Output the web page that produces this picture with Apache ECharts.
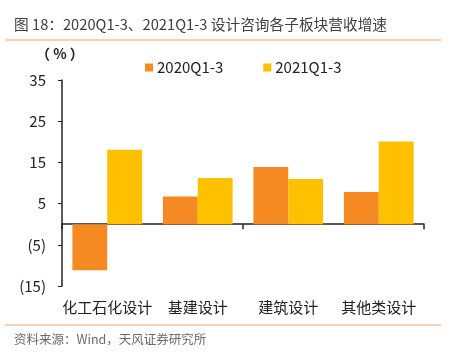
<!DOCTYPE html>
<html>
<head>
<meta charset="utf-8">
<script src="https://cdn.jsdelivr.net/npm/echarts@6/dist/echarts.min.js"></script>
<style>
html,body{margin:0;padding:0;background:#fff;}
#c{width:474px;height:357px;}
</style>
</head>
<body>
<div id="c"></div>
<script>
var categories = ['化工石化设计', '基建设计', '建筑设计', '其他类设计'];
var series2020 = [-11.2, 6.7, 13.9, 7.8];
var series2021 = [18.1, 11.2, 11.0, 20.1];
var seriesNames = ['2020Q1-3', '2021Q1-3'];
var titleText = '图 18：2020Q1-3、2021Q1-3 设计咨询各子板块营收增速';
var sourceText = '资料来源：Wind，天风证券研究所';

var FONT = "'Noto Sans CJK SC', 'Noto Sans', sans-serif";
var chart = echarts.init(document.getElementById('c'), null, {renderer: 'canvas'});
chart.setOption({
  animation: false,
  backgroundColor: '#fff',
  textStyle: {fontFamily: FONT},
  graphic: [
    {type: 'text', left: 14, top: 17, style: {text: titleText, font: '14.7px ' + FONT, fill: '#404040'}},
    {type: 'line', shape: {x1: 5, y1: 40, x2: 441, y2: 40}, style: {stroke: '#F2A46A', lineWidth: 1}},
    {type: 'text', left: 36, top: 47, style: {text: '（ % ）', font: 'bold 14px ' + FONT, fill: '#222'}},
    {type: 'line', shape: {x1: 5, y1: 325, x2: 441, y2: 325}, style: {stroke: '#F2A46A', lineWidth: 1}},
    {type: 'text', left: 14, top: 333, style: {text: sourceText, font: '12.5px ' + FONT, fill: '#6a6a6a'}}
  ],
  legend: {
    data: seriesNames,
    top: 55,
    left: 140,
    itemWidth: 8,
    itemHeight: 8,
    itemGap: 40,
    icon: 'rect',
    textStyle: {fontSize: 15, color: '#222', fontFamily: FONT, padding: [0, 0, 0, -1]}
  },
  grid: {left: 62, right: 50, top: 80, bottom: 71, containLabel: false, outerBoundsMode: 'none'},
  xAxis: [
    {
      type: 'category',
      data: categories,
      position: 'bottom',
      axisLine: {show: false, onZero: false},
      axisTick: {show: false},
      axisLabel: {margin: 14, fontSize: 15, color: '#222', fontFamily: FONT, interval: 0}
    },
    {
      type: 'category',
      data: categories,
      position: 'bottom',
      axisLine: {show: true, onZero: true, lineStyle: {color: '#222', width: 1.5}},
      axisTick: {show: true, inside: false, length: 5, alignWithLabel: false, lineStyle: {color: '#222', width: 1.5}},
      axisLabel: {show: false}
    }
  ],
  yAxis: {
    type: 'value',
    min: -15,
    max: 35,
    interval: 10,
    splitLine: {show: false},
    axisLine: {show: true, lineStyle: {color: '#222', width: 1.5}},
    axisTick: {show: true, length: 4, lineStyle: {color: '#222'}},
    axisLabel: {
      margin: 16,
      fontSize: 15,
      color: '#222',
      fontFamily: FONT,
      formatter: function (v) { return v < 0 ? '(' + Math.abs(v) + ')' : String(v); }
    }
  },
  series: [
    {name: seriesNames[0], type: 'bar', xAxisIndex: 0, data: series2020, barGap: 0, barCategoryGap: '23%', itemStyle: {color: '#F58A22'}},
    {name: seriesNames[1], type: 'bar', xAxisIndex: 0, data: series2021, barGap: 0, barCategoryGap: '23%', itemStyle: {color: '#FFC000'}}
  ]
});
</script>
</body>
</html>
